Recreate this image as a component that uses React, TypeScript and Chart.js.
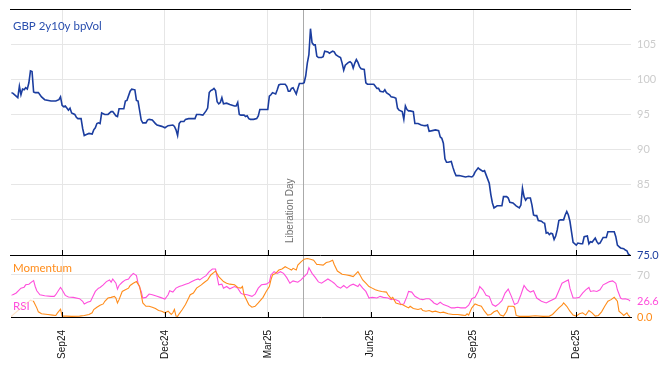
import React, { useEffect, useRef } from 'react';
import { Chart, registerables } from 'chart.js';

Chart.register(...registerables);

// ---------- data (x = trading-day number counted from startDate, weekdays only) ----------
const startDate = '2024-07-18';
const dayCount = 392;
const eventDate = '2025-04-02';
const eventLabel = 'Liberation Day';
const mainLabel = 'GBP 2y10y bpVol';
const momentumLabel = 'Momentum';
const rsiLabel = 'RSI';

const mainDays = [0,1,4,5,6,7,8,9,10,11,12,13,14,15,17,19,21,25,28,30,31,32,33,34,35,36,37,38,40,41,42,44,45,46,47,49,51,52,53,54,55,56,57,59,61,63,64,66,67,68,71,72,73,75,76,78,79,80,82,83,85,86,87,89,91,92,95,97,99,102,103,104,105,106,107,109,110,112,116,117,119,121,123,124,125,126,127,128,129,130,131,132,133,134,136,138,141,142,143,144,145,147,148,149,150,151,153,155,156,157,160,162,163,164,165,167,168,169,170,173,174,175,176,177,178,180,181,182,184,185,186,187,188,189,190,191,192,193,194,196,197,198,200,201,203,204,205,207,208,209,210,211,213,214,215,216,217,218,219,220,221,223,224,225,227,229,230,231,232,233,235,236,237,239,240,242,243,244,245,247,248,249,250,251,252,254,255,257,259,261,262,263,264,266,268,270,271,272,273,274,275,276,278,279,280,281,283,285,287,289,291,292,293,295,296,298,299,300,302,303,304,305,307,310,311,313,314,315,317,319,321,322,323,324,325,326,328,329,330,331,332,333,335,336,337,338,339,340,341,342,343,344,345,346,347,349,350,351,352,353,354,355,357,358,360,361,362,364,365,366,367,369,370,371,372,374,376,377,381,382,383,384,385,387,388,389,390,391];
const mainValues = [98.1,98.0,97.4,99.0,97.8,98.6,98.5,98.8,98.6,99.5,101.2,101.1,98.2,98.1,98.1,97.5,97.1,96.9,96.9,97.1,97.5,96.3,96.1,96.2,95.9,95.6,95.9,95.2,95.0,94.6,94.4,94.4,93.0,92.0,92.1,92.3,92.2,92.8,93.1,93.7,93.8,93.7,95.2,95.0,95.0,95.4,95.4,94.8,94.7,95.8,95.8,96.9,97.0,98.3,98.6,98.5,97.0,96.9,94.2,93.8,93.8,94.2,94.3,94.2,93.7,93.5,93.3,93.1,93.4,93.5,93.3,92.8,92.0,93.7,94.0,94.0,94.3,94.4,94.4,95.0,95.0,94.9,95.5,95.9,98.1,98.4,98.5,98.7,98.4,96.8,96.5,96.7,97.4,96.5,96.6,96.4,96.2,96.2,96.7,95.0,94.9,94.9,94.7,94.8,94.4,94.3,94.3,94.4,94.8,95.7,95.7,95.7,97.6,97.8,98.1,97.9,98.5,99.2,99.3,99.3,99.0,98.3,98.3,98.7,98.8,97.9,98.7,99.4,99.4,99.5,100.5,102.3,103.5,107.2,105.2,104.9,104.9,103.3,103.1,103.1,103.2,104.0,103.9,103.7,104.0,103.9,103.5,103.2,103.1,102.3,101.3,102.0,102.4,102.5,102.3,101.6,102.3,102.8,102.4,101.8,101.5,101.4,99.5,99.3,99.3,99.3,99.0,98.7,98.7,98.3,98.2,98.5,98.1,97.8,97.5,97.4,97.3,95.9,95.6,95.4,94.3,96.2,95.7,95.5,95.5,95.4,93.7,93.7,93.5,93.4,93.4,93.5,92.6,92.7,92.8,92.7,91.8,91.6,90.9,88.7,88.2,88.2,88.3,87.5,86.8,86.3,86.3,86.2,86.1,86.2,86.1,86.3,86.8,87.4,87.2,86.9,87.0,86.4,85.2,83.6,82.4,81.7,82.0,82.0,83.3,83.3,83.1,82.5,82.4,82.0,81.7,82.1,84.5,83.3,82.8,83.1,83.1,82.1,80.7,80.6,80.6,79.9,79.8,79.6,79.5,78.1,78.2,77.9,78.1,78.0,77.2,77.7,78.6,79.9,80.0,80.0,80.7,81.2,80.7,79.8,78.3,76.8,76.4,76.7,76.6,76.6,77.6,77.7,76.6,76.9,76.8,77.4,76.9,76.6,76.7,77.5,77.5,78.3,78.3,77.6,76.4,76.2,76.0,75.9,75.7,75.6,75.1,75.0];

const rsiDays = [0,3,6,8,9,11,13,14,15,16,18,21,25,27,28,30,31,32,34,36,39,43,45,46,48,50,51,53,55,56,58,60,62,63,64,66,67,68,70,72,74,75,77,79,80,82,83,85,87,89,92,94,97,99,100,102,104,106,108,110,112,114,116,118,119,121,123,125,127,129,131,133,134,136,138,141,143,145,146,149,152,154,156,158,161,163,164,166,168,170,172,174,176,178,181,183,185,187,188,190,192,194,196,200,202,204,206,208,210,212,214,216,219,220,222,224,226,228,231,233,235,238,240,241,243,245,246,248,250,251,253,255,258,260,262,264,266,267,269,271,273,276,278,280,282,284,287,289,290,291,293,295,296,298,300,302,304,306,308,310,312,314,316,318,320,322,324,326,328,330,332,335,338,340,342,344,346,348,350,352,353,355,357,359,361,363,365,366,368,370,372,374,376,378,380,382,383,385,386,388,390,391];
const rsiValues = [36,40,48.1,49.7,53.6,54.7,59.0,60.7,50.8,43.7,37.1,35.5,34.4,34.4,37.1,45.3,49.2,45.3,36.0,33.3,32.7,30.5,26.2,21.8,24.5,26.2,31.6,42.6,48.1,49.2,53.6,59.0,61.8,57.9,63.4,56.3,46.4,52.5,57.9,61.8,63.4,67.3,72.7,68.9,56.3,42.6,31.6,32.7,38.2,37.1,34.4,32.7,30.0,37.1,43.7,41.5,48.1,50.8,52.5,54.7,56.3,59.0,61.8,63.4,61.8,65.6,68.9,75.5,79.9,79.9,53.6,54.7,48.1,50.8,47.0,50.8,48.1,39.8,38.2,37.1,34.4,38.2,48.1,53.6,54.7,57.9,70.0,75.5,72.7,75.5,72.7,65.6,56.3,60.1,57.9,61.8,67.3,72.7,82.1,72.7,66.0,58.5,56.3,63.4,60.1,56.3,50.8,48.1,52.5,48.1,52.5,54.7,50.8,54.7,48.1,42.6,31.6,32.7,31.6,34.4,32.7,31.6,28.9,30.0,28.9,26.2,20.7,21.8,34.4,42.6,41.5,34.4,30.0,28.9,30.5,30.5,26.2,23.4,20.7,24.5,20.7,17.9,15.2,15.2,16.3,15.2,15.2,19.6,25.1,30.5,32.7,42.6,50.8,45.3,36.0,34.4,20.7,17.9,21.8,27.3,39.9,46.4,34.4,20.7,23.4,37.1,52.5,45.3,41.5,43.7,31.6,26.2,23.4,26.2,28.9,31.6,43.7,56.3,59.0,61.8,48.1,31.6,31.6,32.7,39.9,45.3,49.2,42.6,43.7,42.6,45.3,53.6,56.3,59.0,60.1,56.3,45.3,31.6,30.0,30.5,28.9,26.6];

const momentumDays = [0,6,12,14,16,17,19,23,26,28,29,31,32,35,38,43,46,49,51,52,54,56,58,59,61,63,65,66,67,68,70,72,74,75,77,79,81,82,83,85,87,89,91,93,95,97,99,101,102,103,104,105,106,108,110,112,113,115,117,120,122,124,126,128,129,131,133,134,136,138,141,143,145,146,147,148,150,152,154,156,159,161,163,164,165,167,169,171,173,175,177,178,180,181,183,185,187,189,191,193,194,197,199,201,203,204,206,209,212,214,216,219,220,222,224,226,228,230,232,234,237,238,240,241,243,245,247,249,251,252,254,257,259,260,262,264,266,268,271,273,276,279,282,285,287,288,289,290,291,293,295,297,299,301,303,305,307,309,311,313,314,317,318,319,321,327,331,336,340,342,344,346,348,349,351,353,355,357,359,361,363,365,367,369,371,373,375,377,379,381,383,384,386,387,389,390,391];
const momentumValues = [1.5,15,28,26,15.2,8.6,5.3,4.2,3.2,2.6,6.4,13,1.5,1.5,1.0,1.5,2.6,4.2,7.0,12.5,16.3,19.6,21.8,26.2,31.6,32.7,34.4,31.6,23.4,28.9,42.6,45.3,48.1,52.5,56.3,59.0,50.8,37.1,23.4,17.9,17.9,16.3,14.1,10.8,9.7,7.0,9.7,4.2,7.0,12.5,1.5,1.0,5.3,12.5,20.7,31.6,37.1,39.9,48.1,53.6,57.9,61.8,70.0,74.4,76.6,67.3,61.8,59.0,56.3,54.7,53.6,49.2,48.1,50.8,37.1,31.6,20.7,16.3,17.9,23.4,32.7,42.6,50.8,61.8,70.0,72.7,78.2,79.9,83.7,81.0,78.2,81.0,78.2,86.4,91.9,96.3,97.4,96.3,94.7,87.5,87.5,86.4,90.8,91.9,94.7,87.5,76.6,71.1,70.0,68.9,67.3,75.5,71.1,61.8,56.3,50.8,48.1,45.3,43.7,42.6,41.5,37.1,30.5,32.7,23.4,21.8,20.7,17.9,15.2,17.9,14.1,12.5,14.1,10.8,9.7,10.8,8.6,9.7,7.0,8.1,5.3,4.2,4.2,3.2,2.6,5.3,3.2,9.7,15.2,21.8,19.6,17.9,9.7,3.2,4.2,8.6,10.8,3.2,1.5,9.7,17.9,17.9,16.3,2.6,1.0,1.0,2.0,1.0,1.5,4.2,9.7,15.2,19.6,23.4,17.9,9.7,3.2,1.5,5.3,7.0,3.2,10.8,7.0,1.5,2.6,8.6,17.9,26.2,28.9,32.7,26.2,9.7,5.3,2.6,7.0,2.6,0];

const mainTicks = [80, 85, 90, 95, 100, 105];
const lowerTicks = [30, 70];
const lowerTickLabels = ['', '70'];
const quarterMonths = [2, 5, 8, 11];
const monthNames = ['Jan','Feb','Mar','Apr','May','Jun','Jul','Aug','Sep','Oct','Nov','Dec'];

// ---------- helpers ----------
function weekdayDates(start: string, count: number): Date[] {
  const out: Date[] = [];
  const d = new Date(start + 'T00:00:00Z');
  while (out.length < count) {
    const wd = d.getUTCDay();
    if (wd !== 0 && wd !== 6) out.push(new Date(d.getTime()));
    d.setUTCDate(d.getUTCDate() + 1);
  }
  return out;
}
const DATES = weekdayDates(startDate, dayCount);
const iso = (d: Date) => d.toISOString().slice(0, 10);
const eventIndex = DATES.findIndex((d) => iso(d) === eventDate);
const monthTicks: { value: number; label: string }[] = [];
for (let i = 1; i < DATES.length; i++) {
  const m = DATES[i].getUTCMonth();
  if (m !== DATES[i - 1].getUTCMonth() && quarterMonths.includes(m)) {
    monthTicks.push({ value: i, label: monthNames[m] + String(DATES[i].getUTCFullYear() % 100).padStart(2, '0') });
  }
}

const BLUE = '#1b3d9f';
const ORANGE = '#ff8c1a';
const MAGENTA = '#ff4fdc';
const LABEL_FONT = '11.5px Lato, "Open Sans", sans-serif';

const toPoints = (xs: number[], ys: number[]) => xs.map((x, i) => ({ x, y: ys[i] }));

const noPadding = (s: any) => {
  s.paddingTop = 0;
  s.paddingBottom = 0;
  s.paddingLeft = 0;
  s.paddingRight = 0;
};

const overlayPlugin = {
  id: 'overlay',
  beforeDatasetsDraw(chart: any) {
    const { ctx, chartArea: a, scales } = chart;
    const x = Math.round(scales.x.getPixelForValue(eventIndex)) + 0.5;
    ctx.save();
    ctx.strokeStyle = '#aaaaaa';
    ctx.lineWidth = 1;
    ctx.beginPath();
    ctx.moveTo(x, a.top);
    ctx.lineTo(x, a.bottom);
    ctx.stroke();
    ctx.translate(x - 13, scales.y.bottom - 12);
    ctx.rotate(-Math.PI / 2);
    ctx.font = '10px "Liberation Sans", Arial, sans-serif';
    ctx.fillStyle = '#707070';
    ctx.textAlign = 'left';
    ctx.textBaseline = 'middle';
    ctx.fillText(eventLabel, 0, 0);
    ctx.restore();
  },
  afterDatasetsDraw(chart: any) {
    const { ctx, chartArea: a, scales } = chart;
    ctx.save();
    // translucent box behind the RSI label
    const boxTop = scales.y2.getPixelForValue(36);
    ctx.fillStyle = 'rgba(255,255,255,0.75)';
    ctx.fillRect(a.left, boxTop, 22, scales.y2.bottom - boxTop - 1);
    ctx.font = LABEL_FONT;
    ctx.textAlign = 'left';
    ctx.textBaseline = 'alphabetic';
    ctx.fillStyle = '#2a4fae';
    ctx.fillText(mainLabel, a.left + 2, a.top + 20.5);
    ctx.fillStyle = ORANGE;
    ctx.fillText(momentumLabel, a.left + 2, scales.y2.top + 17);
    ctx.fillStyle = MAGENTA;
    ctx.fillText(rsiLabel, a.left + 2, scales.y2.top + 55);
    ctx.restore();
  },
  afterDraw(chart: any) {
    const { ctx, chartArea: a, scales } = chart;
    ctx.save();
    ctx.strokeStyle = '#000';
    ctx.lineWidth = 1;
    ctx.beginPath();
    const top = Math.round(a.top) + 0.5;
    ctx.moveTo(a.left - 1, top);
    ctx.lineTo(a.right, top);
    const mid = Math.round(scales.y2.top) + 0.5;
    ctx.moveTo(a.left - 1, mid);
    ctx.lineTo(a.right, mid);
    for (const t of monthTicks) {
      const px = Math.round(scales.x.getPixelForValue(t.value)) + 0.5;
      ctx.moveTo(px, mid - 5.5);
      ctx.lineTo(px, mid);
      ctx.moveTo(px, a.bottom - 5);
      ctx.lineTo(px, a.bottom);
    }
    ctx.stroke();
    // last-value labels
    const lx = a.right + 6;
    ctx.font = '11px Lato, sans-serif';
    ctx.textAlign = 'left';
    ctx.textBaseline = 'middle';
    const lastMain = mainValues[mainValues.length - 1];
    const lastRsi = rsiValues[rsiValues.length - 1];
    const lastMom = momentumValues[momentumValues.length - 1];
    ctx.fillStyle = BLUE;
    ctx.fillText(lastMain.toFixed(1), lx, scales.y.getPixelForValue(lastMain));
    ctx.fillStyle = MAGENTA;
    ctx.fillText(lastRsi.toFixed(1), lx, scales.y2.getPixelForValue(lastRsi));
    ctx.fillStyle = ORANGE;
    ctx.fillText(lastMom.toFixed(1), lx, scales.y2.getPixelForValue(lastMom));
    ctx.restore();
  },
};

export default function App() {
  const ref = useRef<HTMLCanvasElement | null>(null);
  useEffect(() => {
    if (!ref.current) return;
    const chart = new Chart(ref.current, {
      type: 'line',
      data: {
        datasets: [
          { label: mainLabel, data: toPoints(mainDays, mainValues), yAxisID: 'y', borderColor: BLUE, borderWidth: 1.6, pointRadius: 0, tension: 0 },
          { label: momentumLabel, data: toPoints(momentumDays, momentumValues), yAxisID: 'y2', borderColor: ORANGE, borderWidth: 1.1, pointRadius: 0, tension: 0 },
          { label: rsiLabel, data: toPoints(rsiDays, rsiValues), yAxisID: 'y2', borderColor: MAGENTA, borderWidth: 1.1, pointRadius: 0, tension: 0 },
        ],
      },
      options: {
        animation: false,
        responsive: false,
        devicePixelRatio: 1,
        layout: { padding: { left: 11, top: 9, right: 0, bottom: 0 } },
        plugins: { legend: { display: false }, tooltip: { enabled: false } },
        scales: {
          x: {
            type: 'linear',
            min: -0.3,
            max: 391.6,
            grid: { color: '#e6e6e6', drawTicks: false },
            border: { display: true, color: '#000' },
            afterBuildTicks: (s: any) => { s.ticks = monthTicks.map((t) => ({ value: t.value })); },
            afterFit: (s: any) => { s.height = 49; noPadding(s); },
            ticks: {
              autoSkip: false,
              minRotation: 90,
              maxRotation: 90,
              padding: 13,
              color: '#111',
              font: { family: '"Liberation Sans", Arial, sans-serif', size: 10 },
              callback: (v: any) => (monthTicks.find((t) => t.value === v) || { label: '' }).label,
            },
          },
          y: {
            type: 'linear',
            position: 'right',
            stack: 'panels',
            stackWeight: 246,
            min: 75,
            max: 110,
            grid: { color: '#e6e6e6', drawTicks: false },
            border: { display: false },
            afterBuildTicks: (s: any) => { s.ticks = mainTicks.map((v) => ({ value: v })); },
            afterFit: (s: any) => { s.width = 37; noPadding(s); },
            ticks: { padding: 6, color: '#cccccc', font: { family: 'Lato, sans-serif', size: 11 } },
          },
          y2: {
            type: 'linear',
            position: 'right',
            stack: 'panels',
            stackWeight: 62,
            min: 0,
            max: 103.3,
            grid: { color: '#e6e6e6', drawTicks: false },
            border: { display: false },
            afterBuildTicks: (s: any) => { s.ticks = lowerTicks.map((v) => ({ value: v })); },
            afterFit: (s: any) => { s.width = 37; noPadding(s); },
            ticks: {
              padding: 6,
              color: '#cccccc',
              font: { family: 'Lato, sans-serif', size: 11 },
              callback: (v: any) => lowerTickLabels[lowerTicks.indexOf(v)] ?? '',
            },
          },
        },
      },
      plugins: [overlayPlugin],
    } as any);
    return () => chart.destroy();
  }, []);
  return (
    <div style={{ position: 'fixed', left: 0, top: 0, width: 668, height: 366, background: '#fff' }}>
      <canvas ref={ref} width={668} height={366} style={{ display: 'block', width: 668, height: 366 }} />
    </div>
  );
}
